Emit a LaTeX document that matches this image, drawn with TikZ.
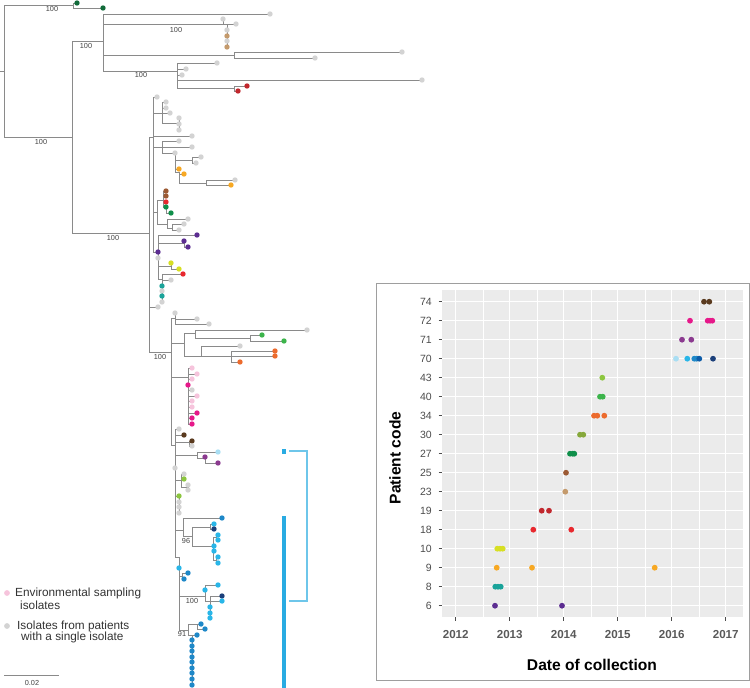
\documentclass[tikz,border=0pt]{standalone}
\usepackage{fontspec}
\setmainfont{Liberation Sans}
\usetikzlibrary{positioning}
\definecolor{treeline}{HTML}{8A8A8A}
\definecolor{treegrey}{HTML}{D3D3D3}
\definecolor{dgreen}{HTML}{126B3A}
\definecolor{tan}{HTML}{C49A6C}
\definecolor{dred}{HTML}{C1272D}
\definecolor{orng}{HTML}{F7A823}
\definecolor{brwn}{HTML}{9C5A33}
\definecolor{rred}{HTML}{E8282E}
\definecolor{grn}{HTML}{0F8F4A}
\definecolor{dpurp}{HTML}{5C2D91}
\definecolor{yel}{HTML}{D7DF23}
\definecolor{teal}{HTML}{1AA39A}
\definecolor{grntwo}{HTML}{3CB44B}
\definecolor{orgtwo}{HTML}{EC6B2D}
\definecolor{pnk}{HTML}{F6C4DC}
\definecolor{mag}{HTML}{E6198A}
\definecolor{dbrown}{HTML}{5A3A1E}
\definecolor{lblue}{HTML}{A9DEF3}
\definecolor{purptwo}{HTML}{8B3A8F}
\definecolor{lgreen}{HTML}{8CC63F}
\definecolor{mblue}{HTML}{1E88C8}
\definecolor{sky}{HTML}{29B6E8}
\definecolor{navy}{HTML}{1B3F7A}
\definecolor{olive}{HTML}{86A83B}
\definecolor{deepblue}{HTML}{0D5CA8}
\definecolor{barblue}{HTML}{29ABE2}
\definecolor{brackblue}{HTML}{6EC6EA}
\definecolor{panelbg}{HTML}{EBEBEB}
\tikzset{tree branch/.style={draw=treeline, line width=0.7pt}}
\tikzset{boot label/.style={font=\fontsize{7.3}{8}\selectfont, text=black!75, inner sep=0pt}}
\tikzset{legend text/.style={font=\fontsize{11.8}{13}\selectfont, text=black!80, anchor=west, inner sep=0pt}}
\tikzset{plot frame/.style={draw=black!38, line width=1pt}}
\tikzset{grid major/.style={draw=white, line width=0.9pt}}
\tikzset{grid minor/.style={draw=white, line width=0.4pt}}
\tikzset{code label/.style={font=\fontsize{10.5}{12}\selectfont, text=black!70, anchor=east, inner sep=0pt}}
\tikzset{year label/.style={font=\bfseries\fontsize{11.6}{13}\selectfont, text=black!65, inner sep=0pt}}
\tikzset{axis title/.style={font=\bfseries\fontsize{15.6}{17}\selectfont, inner sep=0pt}}
\begin{document}
\begin{tikzpicture}[x=1pt,y=-1pt]
	\useasboundingbox (0,0) rectangle (750,688);

	% outer part of the tree
	\draw[tree branch] (0,71)--(4,71) (4,5)--(4,137) (4,5)--(73,5) (73,3)--(73,8) (73,3)--(77,3) (73,8)--(103,8);
	\draw[tree branch] (4,137)--(72,137) (72,41)--(72,233) (72,41)--(103,41) (103,14)--(103,71) (103,14)--(270,14);
	\draw[tree branch] (103,24)--(227,24) (223,19)--(223,24) (227,24)--(227,47) (227,24)--(236,24);
	\draw[tree branch] (103,55)--(234,55) (234,52)--(234,58) (234,52)--(402,52) (234,58)--(315,58);
	\draw[tree branch] (103,71)--(177,71) (177,63)--(177,88) (177,63)--(217,63) (177,69)--(186,69) (177,75)--(182,75)
		(177,80)--(422,80) (177,88)--(234,88) (234,86)--(234,91) (234,86)--(247,86) (234,91)--(238,91);

	% large clade, upper half
	\draw[tree branch] (72,233)--(149,233) (149,137)--(149,352) (149,137)--(153,137) (153,97)--(153,252) (153,97)--(157,97);
	\draw[tree branch] (153,113)--(170,113) (162,102)--(162,123) (162,102)--(166,102) (162,108)--(166,108) (162,123)--(179,123) (179,118)--(179,130);
	\draw[tree branch] (153,136)--(192,136) (153,147)--(192,147) (162,141)--(162,153) (162,141)--(179,141) (162,153)--(175,153);
	\draw[tree branch] (175,153)--(175,172) (175,160)--(192,160) (192,157)--(192,163) (192,157)--(201,157) (192,163)--(196,163)
		(175,169)--(179,169) (175,172)--(179,172) (179,172)--(179,183) (179,174)--(184,174) (179,183)--(206,183)
		(206,180)--(206,185) (206,180)--(235,180) (206,185)--(231,185);
	\draw[tree branch] (153,212)--(157,212) (157,200)--(157,224) (157,200)--(163,200) (163,191)--(163,207)
		(163,191)--(166,191) (163,196)--(166,196) (163,202)--(166,202) (163,207)--(166,207) (166,207)--(166,213)--(171,213)
		(157,224)--(167,224) (167,219)--(167,228) (167,219)--(188,219) (167,228)--(172,228) (172,224)--(172,230)
		(172,224)--(184,224) (172,230)--(179,230);
	\draw[tree branch] (153,252)--(158,252) (158,235)--(158,279) (158,235)--(197,235) (158,243)--(184,243) (184,241)--(184,247)
		(184,247)--(188,247) (158,266)--(171,266) (171,263)--(171,269) (171,269)--(179,269) (158,279)--(162,279)
		(162,274)--(162,302) (162,274)--(183,274) (162,280)--(171,280) (149,307)--(158,307);

	% large clade, lower half
	\draw[tree branch] (149,352)--(171,352) (171,318)--(171,445) (171,318)--(175,318) (175,313)--(175,324) (175,319)--(197,319) (175,324)--(209,324);
	\draw[tree branch] (171,343)--(184,343) (184,333)--(184,356) (184,333)--(195,333) (195,330)--(195,338) (195,330)--(307,330)
		(195,338)--(250,338) (250,335)--(250,341) (250,335)--(262,335) (250,341)--(284,341)
		(184,356)--(201,356) (201,346)--(201,356) (201,346)--(240,346) (201,356)--(231,356)
		(231,351)--(231,362) (231,351)--(275,351) (231,356)--(275,356) (231,362)--(240,362);
	\draw[tree branch] (171,377)--(188,377) (188,368)--(188,424);
	\foreach \px/\py in {192/368,197/374,192/379,192/390,197/396,192/401,192/407,197/413,192/418,192/424}
		\draw[tree branch] (188,\py)--(\px,\py);
	\draw[tree branch] (171,445)--(175,445) (175,429)--(175,557) (175,429)--(179,429) (175,435)--(184,435) (175,442)--(189,442)
		(189,441)--(189,446) (189,441)--(192,441) (189,446)--(192,446) (175,455)--(197,455) (197,452)--(197,458)
		(197,452)--(218,452) (197,458)--(205,458) (205,457)--(205,463) (205,463)--(218,463);
	\draw[tree branch] (175,480)--(181,480) (181,474)--(181,487) (181,474)--(184,474) (181,479)--(184,479) (181,487)--(188,487)
		(188,485)--(188,490) (175,496)--(179,496) (179,496)--(179,513);
	\draw[tree branch] (175,530)--(183,530) (183,518)--(183,536) (183,518)--(222,518) (183,536)--(192,536) (192,527)--(192,546)
		(192,527)--(210,527) (210,524)--(210,529) (210,524)--(214,524) (210,529)--(214,529) (192,546)--(213,546)
		(213,537)--(213,560) (213,537)--(216,537) (216,535)--(216,540) (216,535)--(218,535) (216,540)--(218,540)
		(213,551)--(214,551) (213,560)--(216,560) (216,557)--(216,563) (216,557)--(218,557) (216,563)--(218,563);
	\draw[tree branch] (175,557)--(179,557) (179,557)--(179,630) (179,576)--(182,576) (182,573)--(182,579) (182,573)--(188,573)
		(182,579)--(184,579) (179,596)--(205,596) (205,585)--(205,601) (205,585)--(218,585) (205,601)--(210,601)
		(210,596)--(210,618) (210,596)--(222,596) (210,601)--(222,601);
	\draw[tree branch] (179,630)--(188,630) (188,624)--(188,635) (188,624)--(197,624) (197,624)--(197,629) (197,624)--(201,624)
		(197,629)--(205,629) (188,635)--(192,635) (192,635)--(192,685) (192,635)--(197,635);

	% tips
	\foreach \px/\py/\c in {77/3/dgreen, 103/8/dgreen, 270/14/treegrey, 223/19/treegrey, 236/24/treegrey, 227/30/treegrey,
		227/36/tan, 227/41/treegrey, 227/47/tan, 402/52/treegrey, 315/58/treegrey, 217/63/treegrey, 186/69/treegrey,
		182/75/treegrey, 422/80/treegrey, 247/86/dred, 238/91/dred,
		157/97/treegrey, 166/102/treegrey, 166/108/treegrey, 170/113/treegrey, 179/118/treegrey, 179/124/treegrey,
		179/130/treegrey, 192/136/treegrey, 179/141/treegrey, 192/147/treegrey, 175/153/treegrey, 201/157/treegrey,
		196/163/treegrey, 179/169/orng, 184/174/orng, 235/180/treegrey, 231/185/orng,
		166/191/brwn, 166/196/brwn, 166/202/rred, 166/207/grn, 171/213/grn, 188/219/treegrey, 184/224/treegrey, 179/230/treegrey,
		197/235/dpurp, 184/241/dpurp, 188/247/dpurp, 158/252/dpurp, 158/258/treegrey, 171/263/yel, 179/269/yel, 183/274/rred,
		171/280/treegrey, 162/286/teal, 162/291/treegrey, 162/296/teal, 162/302/treegrey, 158/307/treegrey,
		175/313/treegrey, 197/319/treegrey, 209/324/treegrey, 307/330/treegrey, 262/335/grntwo, 284/341/grntwo,
		240/346/treegrey, 275/351/orgtwo, 275/356/orgtwo, 240/362/orgtwo,
		192/368/pnk, 197/374/pnk, 192/379/pnk, 188/385/mag, 192/390/treegrey, 197/396/pnk, 192/401/pnk, 192/407/pnk,
		197/413/mag, 192/418/mag, 192/424/mag,
		179/429/treegrey, 184/435/dbrown, 192/441/dbrown, 192/446/treegrey, 218/452/lblue, 205/457/purptwo, 218/463/purptwo,
		175/468/treegrey, 184/474/treegrey, 184/479/lgreen, 188/485/treegrey, 188/490/treegrey, 179/496/lgreen,
		179/502/treegrey, 179/507/treegrey, 179/513/treegrey,
		222/518/mblue, 214/524/sky, 214/529/navy, 218/535/sky, 218/540/sky, 214/546/sky, 214/551/sky, 218/557/sky, 218/563/sky,
		179/568/sky, 188/573/mblue, 184/579/mblue, 218/585/sky, 205/590/sky, 222/596/navy, 222/601/sky, 210/607/sky,
		210/613/sky, 210/618/sky, 201/624/mblue, 205/629/mblue, 197/635/mblue}
		\fill[\c] (\px,\py) circle (2.7);
	\foreach \py in {640,646,651,657,662,668,673,679,685}
		\fill[mblue] (192,\py) circle (2.7);

	% bootstrap values
	\node[boot label] (bs1) at (52,9) {100};
	\node[boot label] (bs2) at (86,46) {100};
	\node[boot label] (bs3) at (176,30) {100};
	\node[boot label] (bs4) at (141,75) {100};
	\node[boot label] (bs5) at (41,142) {100};
	\node[boot label] (bs6) at (113,238) {100};
	\node[boot label] (bs7) at (160,357) {100};
	\node[boot label] (bs8) at (186,541) {96};
	\node[boot label] (bs9) at (192,601) {100};
	\node[boot label] (bs10) at (182,634) {91};

	% patient 70 bars
	\fill[barblue] (282,449) rectangle (286,454);
	\fill[barblue] (282,516) rectangle (286,688);
	\draw[brackblue, line width=1.2pt] (289,451)--(307,451)--(307,601)--(289,601);

	% legend and scale
	\fill[pnk] (7,593) circle (2.9);
	\node[legend text] (envA) at (15,593) {Environmental sampling};
	\node[legend text] (envB) at (20,605) {isolates};
	\fill[treegrey] (7,626) circle (2.9);
	\node[legend text] (sglA) at (17,626) {Isolates from patients};
	\node[legend text] (sglB) at (21,637) {with a single isolate};
	\draw[treeline, line width=0.7pt] (4,675)--(59,675);
	\node[boot label] (scale) at (32,683) {0.02};

	% collection dates panel
	\draw[plot frame] (376,283) rectangle (749,680);
	\fill[panelbg] (442,290) rectangle (743,617);
	\foreach \k in {0,...,4}
		\draw[grid minor] ({482.7+54*\k},290)--({482.7+54*\k},617);
	\foreach \k in {0,...,5}
		\draw[grid major] ({455.7+54*\k},290)--({455.7+54*\k},617);
	\foreach \lab [count=\i from 0] in {74,72,71,70,43,40,34,30,27,25,23,19,18,10,9,8,6} {
		\draw[grid major] (442,{301.7+19*\i})--(743,{301.7+19*\i});
		\draw[black!70, line width=0.6pt] (438.5,{301.7+19*\i})--(442,{301.7+19*\i});
		\node[code label] (code\lab) at (432,{301.7+19*\i}) {\lab};
	}
	\foreach \yr [count=\k from 0] in {2012,2013,2014,2015,2016,2017} {
		\draw[black!70, line width=0.6pt] ({455.7+54*\k},617)--({455.7+54*\k},620.5);
		\node[year label] (yr\yr) at ({455.7+54*\k},635) {\yr};
	}
	\foreach \px/\row/\c in {704/0/dbrown, 709.3/0/dbrown, 690/1/mag, 707.7/1/mag, 710/1/mag, 712.3/1/mag,
		682/2/purptwo, 691.3/2/purptwo, 676/3/lblue, 687.3/3/sky, 694.3/3/mblue, 696.7/3/mblue, 699.3/3/deepblue, 713/3/navy,
		602.3/4/lgreen, 600/5/grntwo, 602.7/5/grntwo, 594/6/orgtwo, 597.3/6/orgtwo, 604.3/6/orgtwo,
		580/7/olive, 583.3/7/olive, 570/8/grn, 572.7/8/grn, 574.3/8/grn, 566/9/brwn, 565.3/10/tan,
		541.7/11/dred, 549/11/dred, 533.3/12/rred, 571.3/12/rred, 497.3/13/yel, 500/13/yel, 502.7/13/yel,
		496.7/14/orng, 532/14/orng, 654.7/14/orng, 495.3/15/teal, 498/15/teal, 500.7/15/teal, 495/16/dpurp, 562/16/dpurp}
		\fill[\c] (\px,{301.7+19*\row}) circle (2.9);
	\node[axis title] (xtitle) at (592,665) {Date of collection};
	\node[axis title, rotate=90] (ytitle) at (395,458) {Patient code};
\end{tikzpicture}
\end{document}
